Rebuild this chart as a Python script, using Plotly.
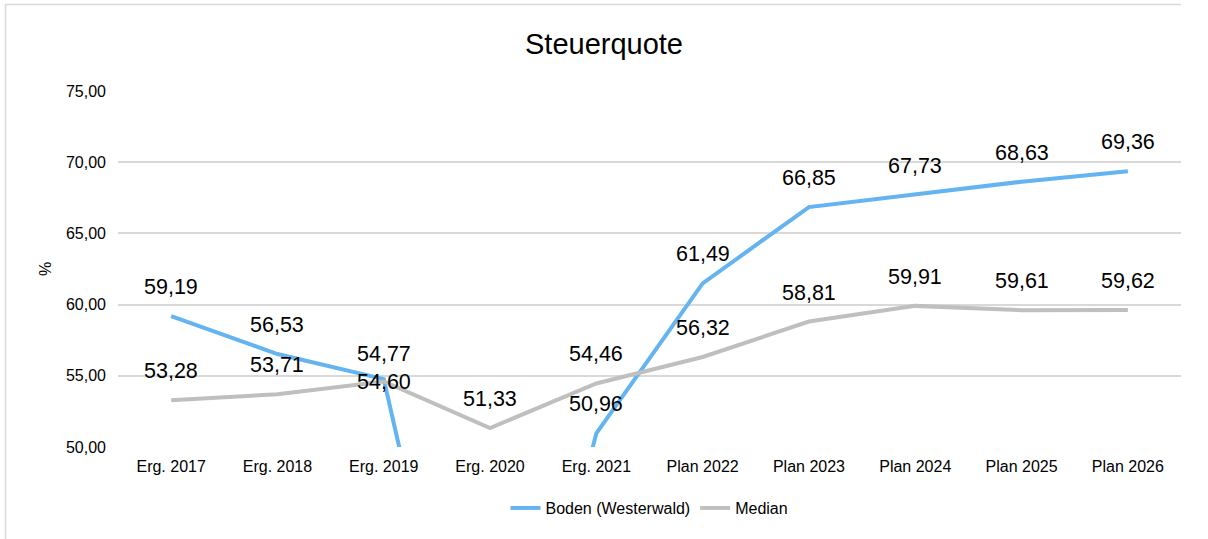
import plotly.graph_objects as go

categories = ["Erg. 2017", "Erg. 2018", "Erg. 2019", "Erg. 2020", "Erg. 2021",
              "Plan 2022", "Plan 2023", "Plan 2024", "Plan 2025", "Plan 2026"]
boden = [59.19, 56.53, 54.77, 22.0, 50.96, 61.49, 66.85, 67.73, 68.63, 69.36]
median = [53.28, 53.71, 54.60, 51.33, 54.46, 56.32, 58.81, 59.91, 59.61, 59.62]
y_ticks = [50, 55, 60, 65, 70, 75]

BLUE = "#63B4F0"
GRAY = "#BFBFBF"
FONT = "Liberation Sans, Arial, sans-serif"

fig = go.Figure()
fig.add_trace(go.Scatter(x=categories, y=boden, mode="lines", name="Boden (Westerwald)",
                         line=dict(color=BLUE, width=4)))
fig.add_trace(go.Scatter(x=categories, y=median, mode="lines", name="Median",
                         line=dict(color=GRAY, width=4)))

# label placement: default above the point; labels at Erg. 2019 are nudged apart
default_shift = 29
shift_override = {("boden", "Erg. 2019"): 25, ("median", "Erg. 2019"): 0}

annotations = []
for key, series in (("boden", boden), ("median", median)):
    for c, v in zip(categories, series):
        if 50 <= v <= 75:
            annotations.append(dict(x=c, y=v, xref="x", yref="y",
                                    text=f"{v:.2f}".replace(".", ","),
                                    showarrow=False,
                                    yshift=shift_override.get((key, c), default_shift),
                                    font=dict(size=21.5, color="#000000", family=FONT)))

W, H = 1208, 539
L, R, T, B = 118, 27, 91, 92
pw, ph = W - L - R, H - T - B

def px(x):
    return (x - L) / pw

def py(y):
    return 1 - (y - T) / ph

shapes = [
    dict(type="line", xref="paper", yref="paper", x0=px(5), x1=px(1181), y0=py(4.5), y1=py(4.5),
         line=dict(color="#D9D9D9", width=1.5)),
    dict(type="line", xref="paper", yref="paper", x0=px(5.5), x1=px(5.5), y0=py(4), y1=py(539),
         line=dict(color="#D9D9D9", width=1.5)),
]

fig.update_layout(
    width=W, height=H,
    margin=dict(l=L, r=R, t=T, b=B),
    paper_bgcolor="white", plot_bgcolor="white",
    separators=",.",
    title=dict(text="Steuerquote", x=0.5, xanchor="center", y=1 - 44 / H, yanchor="middle",
               font=dict(size=29, color="#000000", family=FONT)),
    font=dict(family=FONT, color="#000000", size=16),
    xaxis=dict(type="category", range=[-0.5, 9.5], showgrid=False, showline=False,
               ticks="", ticklabelstandoff=8, tickfont=dict(size=16, color="#000000")),
    yaxis=dict(range=[50, 75], tickvals=y_ticks, tickformat=".2f", showgrid=True,
               gridcolor="#D9D9D9", gridwidth=1.5, zeroline=False, showline=False,
               ticks="", ticklen=0, ticklabelstandoff=11,
               tickfont=dict(size=16, color="#000000"),
               title=dict(text="%", font=dict(size=16, color="#000000"), standoff=10)),
    legend=dict(orientation="h", x=0.5, xanchor="center", y=py(508), yanchor="middle",
                font=dict(size=16, color="#000000")),
    showlegend=True,
    annotations=annotations,
    shapes=shapes,
)

fig.write_html("out.html", config={"displayModeBar": False},
               post_script="document.body.style.margin='0';")
